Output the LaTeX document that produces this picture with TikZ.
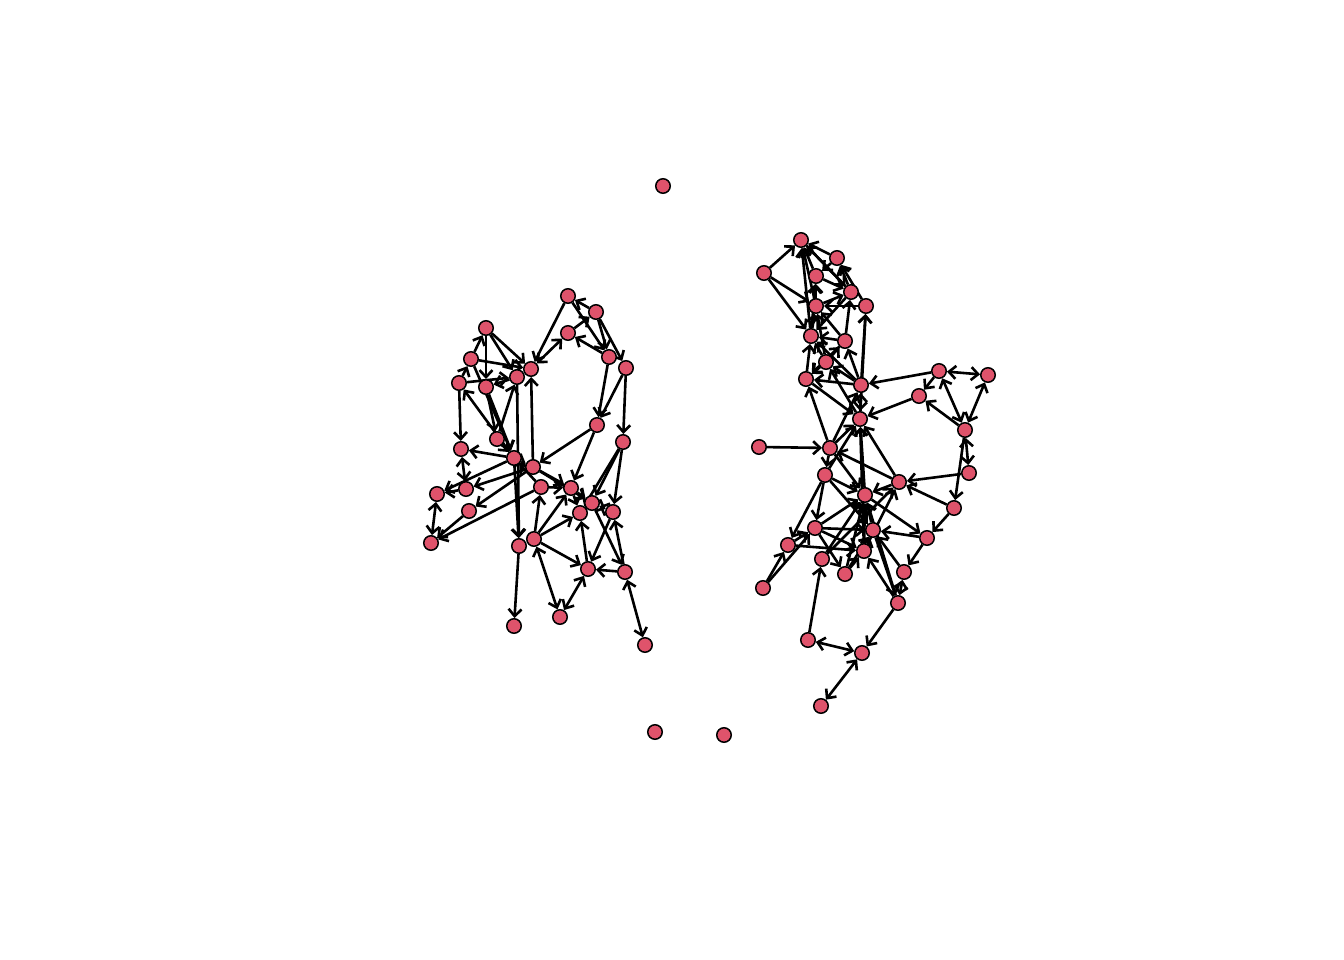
\documentclass[tikz,border=0pt]{standalone}
\usetikzlibrary{arrows.meta,backgrounds}
\definecolor{vcol}{HTML}{DF536B}
\tikzset{
  vx/.style={circle,draw=black,fill=vcol,line width=1.5pt,minimum size=14.5pt,inner sep=0pt},
  ed/.style={line width=2.6pt,draw=black,-{Straight Barb[length=7pt,width=13pt]}},
  bd/.style={line width=2.6pt,draw=black,{Straight Barb[length=7pt,width=13pt]}-{Straight Barb[length=7pt,width=13pt]}}
}
\begin{document}
\begin{tikzpicture}[x=1pt,y=-1pt]
\useasboundingbox (0,0) rectangle (1344,960);
% isolated
\node[vx] (I1) at (663,186) {};
\node[vx] (I2) at (655,732) {};
\node[vx] (I3) at (724,735) {};
% left cluster
\node[vx] (L1) at (568,296) {};
\node[vx] (L2) at (596,312) {};
\node[vx] (L3) at (568,333) {};
\node[vx] (L4) at (486,328) {};
\node[vx] (L5) at (471,359) {};
\node[vx] (L6) at (459,383) {};
\node[vx] (L7) at (486,387) {};
\node[vx] (L8) at (517,377) {};
\node[vx] (L9) at (531,369) {};
\node[vx] (L10) at (609,357) {};
\node[vx] (L11) at (626,368) {};
\node[vx] (L12) at (597,425) {};
\node[vx] (L13) at (623,442) {};
\node[vx] (L14) at (461,449) {};
\node[vx] (L15) at (497,439) {};
\node[vx] (L16) at (514,458) {};
\node[vx] (L17) at (533,467) {};
\node[vx] (L18) at (541,487) {};
\node[vx] (L19) at (571,488) {};
\node[vx] (L20) at (592,503) {};
\node[vx] (L21) at (580,513) {};
\node[vx] (L22) at (613,512) {};
\node[vx] (L23) at (466,489) {};
\node[vx] (L24) at (437,494) {};
\node[vx] (L25) at (469,511) {};
\node[vx] (L26) at (431,543) {};
\node[vx] (L27) at (519,546) {};
\node[vx] (L28) at (534,539) {};
\node[vx] (L29) at (588,569) {};
\node[vx] (L30) at (625,572) {};
\node[vx] (L31) at (514,626) {};
\node[vx] (L32) at (560,617) {};
\node[vx] (L33) at (645,645) {};
% right cluster
\node[vx] (R1) at (801,240) {};
\node[vx] (R2) at (764,273) {};
\node[vx] (R3) at (837,258) {};
\node[vx] (R4) at (816,276) {};
\node[vx] (R5) at (851,292) {};
\node[vx] (R6) at (866,306) {};
\node[vx] (R7) at (816,306) {};
\node[vx] (R8) at (811,336) {};
\node[vx] (R9) at (845,341) {};
\node[vx] (R10) at (826,362) {};
\node[vx] (R11) at (806,379) {};
\node[vx] (R12) at (861,385) {};
\node[vx] (R13) at (939,371) {};
\node[vx] (R14) at (988,375) {};
\node[vx] (R15) at (919,396) {};
\node[vx] (R16) at (860,419) {};
\node[vx] (R17) at (965,430) {};
\node[vx] (R18) at (969,473) {};
\node[vx] (R19) at (759,447) {};
\node[vx] (R20) at (830,448) {};
\node[vx] (R21) at (825,475) {};
\node[vx] (R22) at (865,495) {};
\node[vx] (R23) at (899,482) {};
\node[vx] (R24) at (954,508) {};
\node[vx] (R25) at (815,528) {};
\node[vx] (R26) at (873,530) {};
\node[vx] (R27) at (927,538) {};
\node[vx] (R28) at (788,545) {};
\node[vx] (R29) at (864,551) {};
\node[vx] (R30) at (822,559) {};
\node[vx] (R31) at (845,574) {};
\node[vx] (R32) at (904,572) {};
\node[vx] (R33) at (763,588) {};
\node[vx] (R34) at (898,603) {};
\node[vx] (R35) at (808,640) {};
\node[vx] (R36) at (862,653) {};
\node[vx] (R37) at (821,706) {};
\begin{scope}[on background layer]
% left edges
\foreach \a/\b in {L2/L1,L1/L10,L1/L9,L2/L10,L2/L11,L3/L2,L10/L3,L10/L12,L11/L12,L11/L13,
  L4/L9,L4/L8,L4/L7,L5/L4,L6/L5,L5/L9,L6/L8,L8/L7,L5/L16,L7/L16,L6/L14,L16/L6,L15/L8,L8/L27,
  L17/L9,L7/L15,L15/L16,L16/L14,L23/L24,L25/L26,L18/L26,L16/L24,L17/L23,L17/L25,L16/L17,
  L17/L19,L18/L19,L19/L20,L17/L20,L21/L20,L12/L17,L12/L19,L13/L21,L13/L22,L13/L20,L28/L18,
  L28/L19,L16/L27,L29/L21,L20/L30,L22/L29,L30/L22,L27/L31,L28/L29,L30/L29,L19/L21,L18/L16,L28/L21}
  \draw[ed] (\a) -- (\b);
\foreach \a/\b in {L3/L9,L14/L23,L24/L26,L20/L22,L28/L32,L29/L32,L30/L33}
  \draw[bd] (\a) -- (\b);
% right edges
\foreach \a/\b in {R2/R1,R2/R7,R2/R8,R3/R1,R4/R1,R5/R1,R7/R1,R8/R1,R1/R5,R3/R4,R5/R3,R6/R3,
  R4/R5,R7/R4,R8/R4,R7/R5,R9/R5,R6/R7,R9/R7,R8/R7,R10/R7,R5/R8,R9/R8,R10/R8,R11/R8,R12/R8,
  R10/R9,R12/R9,R9/R11,R10/R11,R12/R10,R16/R10,R12/R6,R16/R6,R12/R11,R11/R16,R13/R12,R13/R15,
  R15/R16,R17/R15,R17/R24,R18/R23,R23/R16,R23/R20,R23/R22,R19/R20,R20/R11,R20/R16,R20/R12,
  R21/R16,R20/R21,R21/R28,R21/R25,R21/R22,R33/R28,R33/R25,R28/R25,R25/R26,R25/R31,R28/R29,
  R35/R30,R30/R23,R27/R26,R27/R32,R24/R27,R24/R23,R22/R27,R26/R34,R34/R36,R22/R16,R29/R16,
  R25/R22,R26/R22,R30/R22,R31/R22,R29/R22,R20/R22,R29/R26,R31/R26,R32/R26,R31/R29,R25/R29,
  R34/R22,R34/R29,R29/R23,R21/R26}
  \draw[ed] (\a) -- (\b);
\foreach \a/\b in {R12/R16,R13/R14,R13/R17,R14/R17,R17/R18,R32/R34,R35/R36,R36/R37}
  \draw[bd] (\a) -- (\b);
\end{scope}
\end{tikzpicture}
\end{document}
